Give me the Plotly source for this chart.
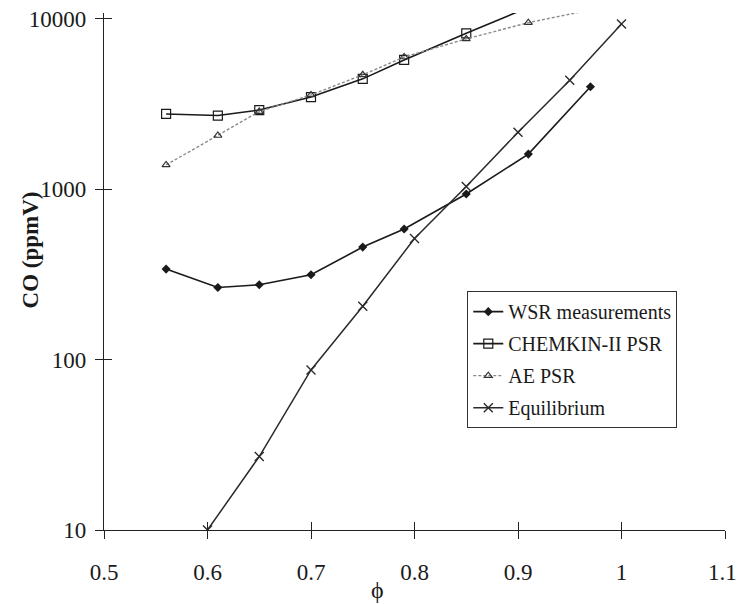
import plotly.graph_objects as go

# Equivalence ratio and CO concentrations (ppmV)
phi_wsr = [0.56, 0.61, 0.65, 0.70, 0.75, 0.79, 0.85, 0.91, 0.97]
co_wsr = [340, 265, 275, 315, 458, 585, 938, 1610, 4000]

phi_chemkin = [0.56, 0.61, 0.65, 0.70, 0.75, 0.79, 0.85, 0.91]
co_chemkin = [2770, 2710, 2920, 3480, 4450, 5750, 8240, 11700]

phi_ae = [0.56, 0.61, 0.65, 0.70, 0.75, 0.79, 0.85, 0.91, 0.97]
co_ae = [1390, 2070, 2860, 3580, 4700, 5980, 7640, 9510, 11300]

phi_eq = [0.60, 0.65, 0.70, 0.75, 0.80, 0.85, 0.90, 0.95, 1.00]
co_eq = [10, 27, 87, 206, 514, 1040, 2160, 4370, 9350]

x_ticks = [0.5, 0.6, 0.7, 0.8, 0.9, 1.0, 1.1]
x_tick_text = ["0.5", "0.6", "0.7", "0.8", "0.9", "1", "1.1"]
y_ticks = [10, 100, 1000, 10000]
y_tick_text = ["10", "100", "1000", "10000"]

SERIF = "Liberation Serif, Times New Roman, serif"
INK = "#1a1a1a"

fig = go.Figure()

fig.add_trace(go.Scatter(
    x=phi_wsr, y=co_wsr, name="WSR measurements", mode="lines+markers", legendgroup="a",
    line=dict(color=INK, width=1.6),
    marker=dict(symbol="diamond", size=7, color=INK),
))
fig.add_trace(go.Scatter(
    x=phi_chemkin, y=co_chemkin, name="CHEMKIN-II PSR", mode="lines+markers", legendgroup="b",
    line=dict(color=INK, width=1.6),
    marker=dict(symbol="square-open", size=9, color=INK, line=dict(width=1.2)),
))
fig.add_trace(go.Scatter(
    x=phi_ae, y=co_ae, name="AE PSR", mode="lines+markers", legendgroup="c",
    line=dict(color="#8a8a8a", width=1.4, dash="3px,2px"),
    marker=dict(symbol="triangle-up-open", size=7, color="#333333", line=dict(width=1.2)),
))
fig.add_trace(go.Scatter(
    x=phi_eq, y=co_eq, name="Equilibrium", mode="lines+markers", legendgroup="d",
    line=dict(color="#2a2a2a", width=1.5),
    marker=dict(symbol="x-thin-open", size=9, color="#2a2a2a", line=dict(width=1.4, color="#2a2a2a")),
))

# Empty trace so the overlay axes (second half of the crossing ticks) are drawn
fig.add_trace(go.Scatter(x=[], y=[], xaxis="x2", yaxis="y2", showlegend=False, hoverinfo="skip"))

y_range = [1, 4.035]
x_range = [0.5, 1.1]

fig.update_layout(
    template="none",
    width=737, height=604,
    margin=dict(l=104, r=12, t=13, b=74, autoexpand=False),
    paper_bgcolor="white", plot_bgcolor="white",
    font=dict(family=SERIF, color=INK, size=22),
    showlegend=True,
    legend=dict(
        x=0.585, y=0.462, xanchor="left", yanchor="top",
        bordercolor="#333333", borderwidth=1, bgcolor="white",
        font=dict(family=SERIF, size=20, color=INK),
        itemwidth=30, tracegroupgap=3,
    ),
    xaxis=dict(
        type="linear", range=x_range, tickvals=x_ticks, ticktext=x_tick_text,
        ticks="outside", ticklen=8, tickwidth=1.3, tickcolor="#222",
        showline=True, linecolor="#222", linewidth=1.3, automargin=False,
        showgrid=False, zeroline=False, ticklabelstandoff=13,
        tickfont=dict(family=SERIF, size=23, color=INK),
    ),
    yaxis=dict(
        type="log", range=y_range, tickvals=y_ticks, ticktext=y_tick_text,
        ticks="outside", ticklen=8, tickwidth=1.3, tickcolor="#222",
        showline=True, linecolor="#222", linewidth=1.3, automargin=False,
        showgrid=False, zeroline=False, ticklabelstandoff=4,
        tickfont=dict(family=SERIF, size=23, color=INK),
    ),
    xaxis2=dict(
        type="linear", range=x_range, tickvals=x_ticks, overlaying="x", anchor="y2",
        ticks="inside", ticklen=8, tickwidth=1.3, tickcolor="#222", automargin=False,
        showticklabels=False, showgrid=False, zeroline=False, showline=False,
    ),
    yaxis2=dict(
        type="log", range=y_range, tickvals=y_ticks, overlaying="y", anchor="x2",
        ticks="inside", ticklen=8, tickwidth=1.3, tickcolor="#222", automargin=False,
        showticklabels=False, showgrid=False, zeroline=False, showline=False,
    ),
    annotations=[
        # axis titles
        dict(
            text="<b>CO (ppmV)</b>", xref="paper", yref="paper", x=-0.119, y=0.541,
            xanchor="center", yanchor="middle", textangle=-90, showarrow=False,
            font=dict(family=SERIF, size=23, color=INK),
        ),
        dict(
            text="ϕ", xref="paper", yref="paper", x=0.44, y=-0.116,
            xanchor="center", yanchor="middle", showarrow=False,
            font=dict(family=SERIF, size=24, color=INK),
        ),
        # last tick label sits on the page edge, so it is placed as an annotation
        dict(
            text=x_tick_text[-1], xref="x", yref="paper", x=x_ticks[-1], y=-0.082,
            xanchor="center", yanchor="middle", showarrow=False, xshift=-3,
            font=dict(family=SERIF, size=23, color=INK),
        ),
    ],
)

fig.write_html("out.html")
